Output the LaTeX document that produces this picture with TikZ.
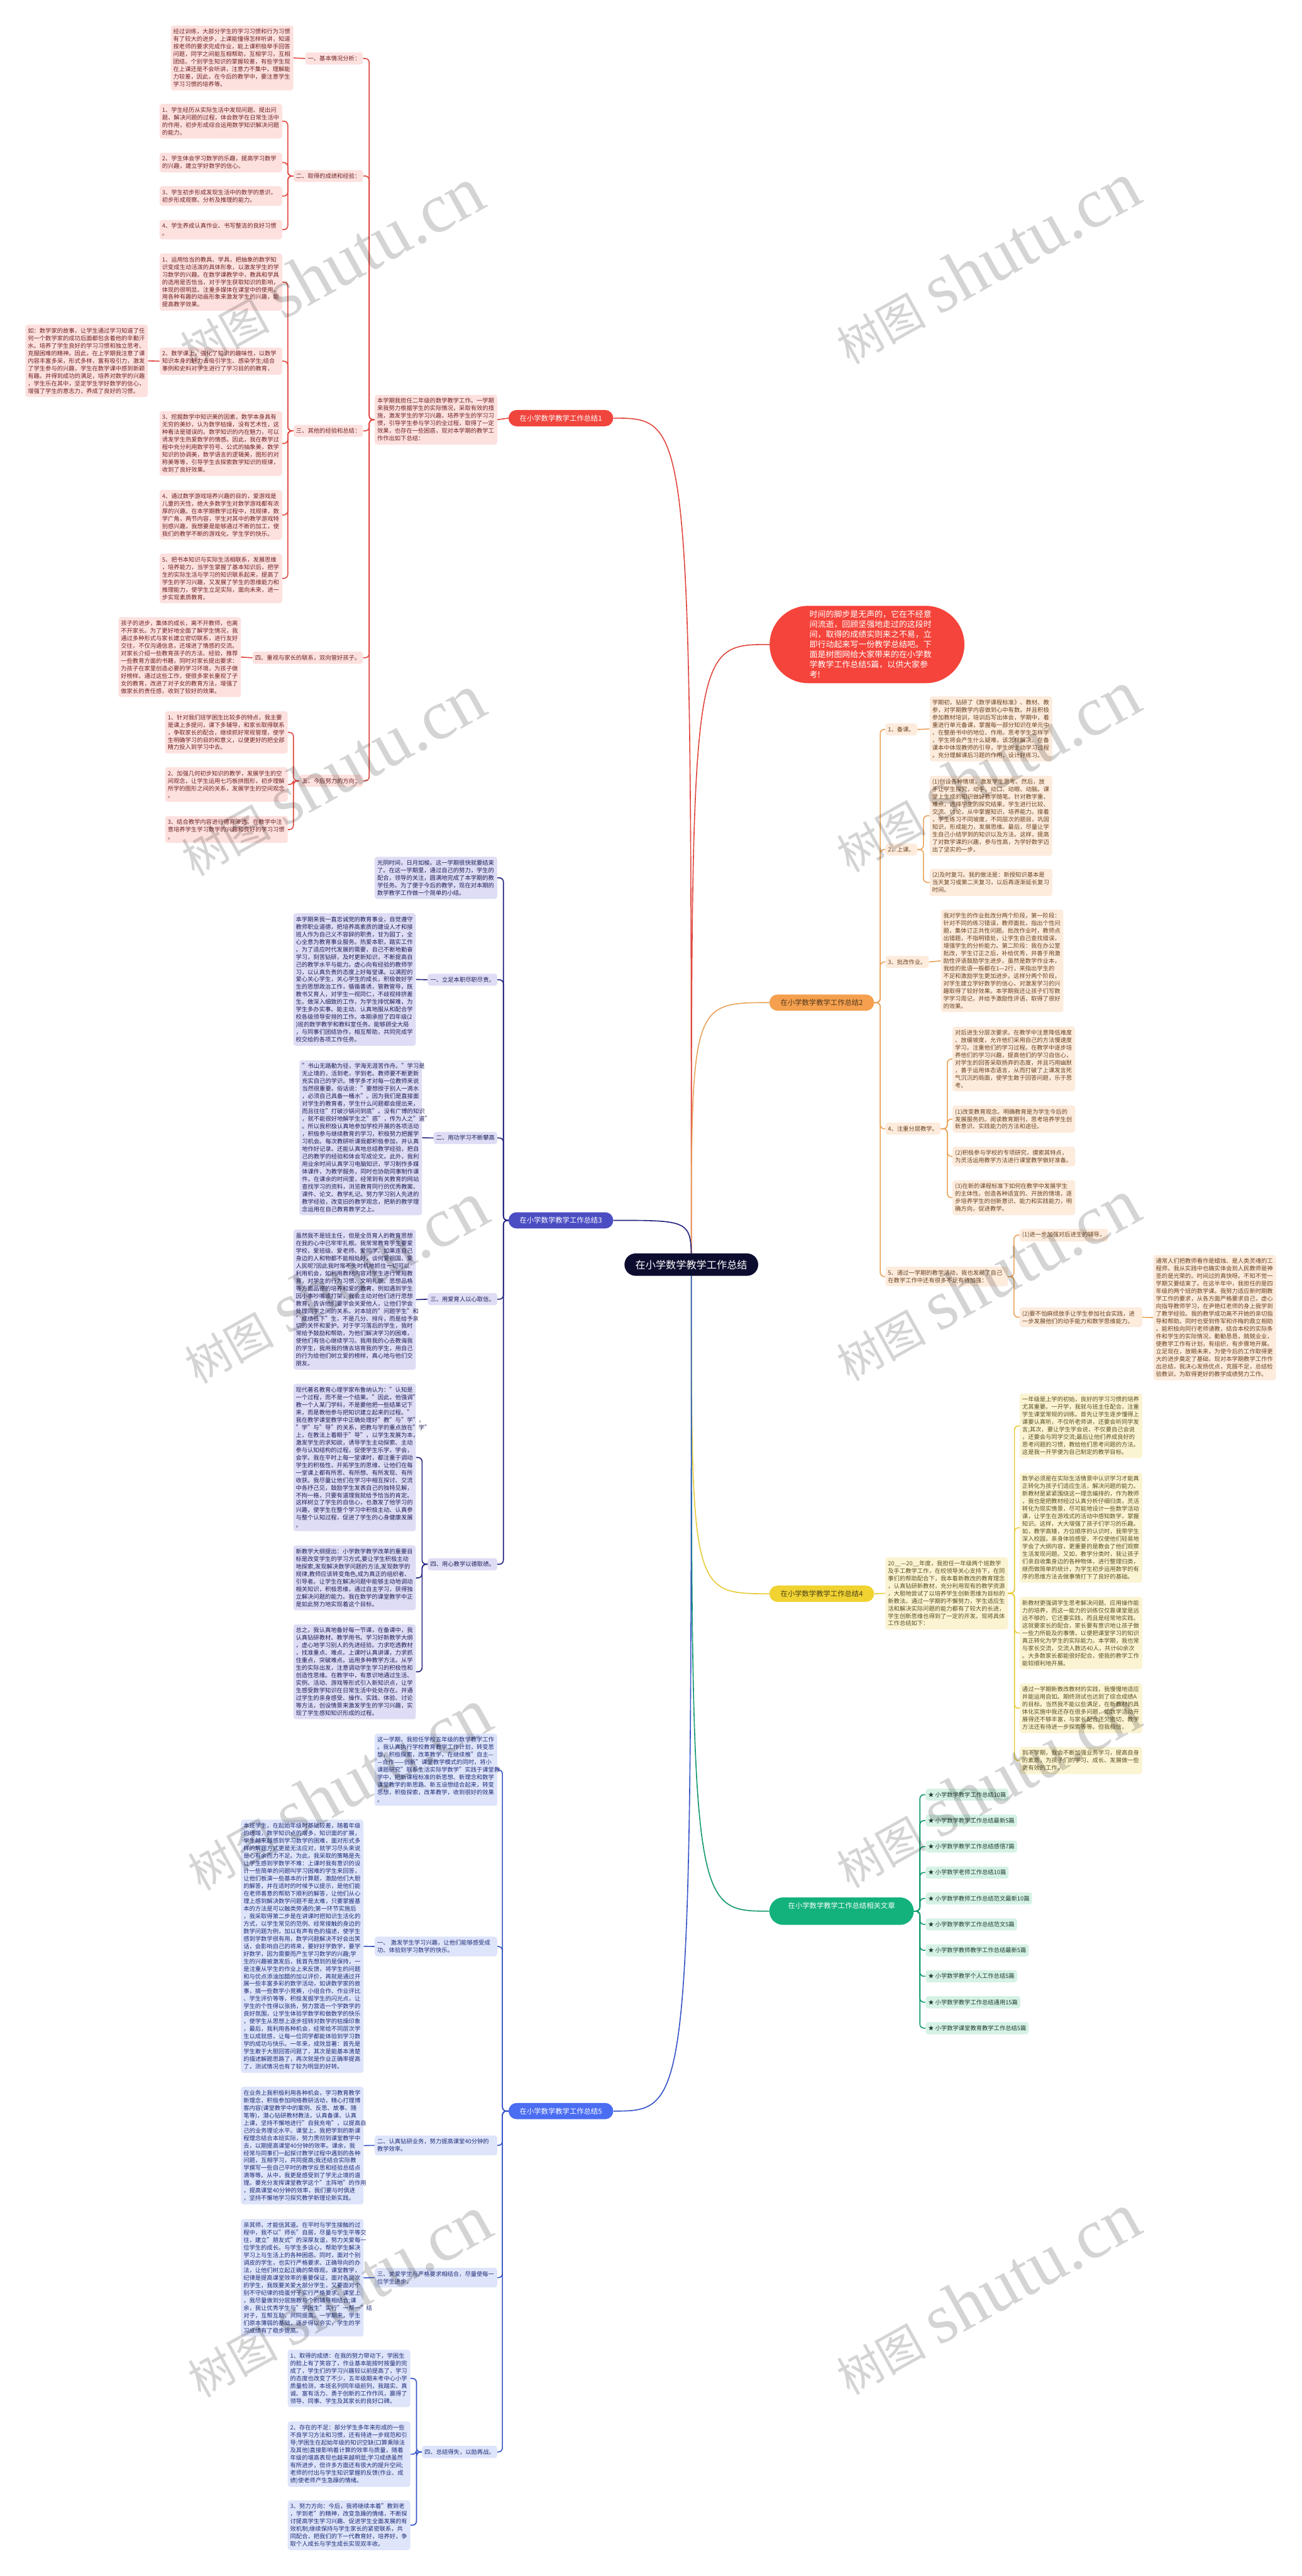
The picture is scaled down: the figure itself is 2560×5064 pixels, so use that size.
\documentclass[tikz,border=0pt]{standalone}
\usepackage{fontspec}
\setmainfont{Noto Sans CJK SC}
\newfontfamily\wmlatin{Liberation Serif}
\usetikzlibrary{backgrounds}
\definecolor{ctfill}{HTML}{0C0C2E}
\definecolor{rifill}{HTML}{F5443B}
\definecolor{r1}{HTML}{F0453D}
\definecolor{r1line}{HTML}{E04840}
\definecolor{r1fill}{HTML}{FDE1DF}
\definecolor{r1text}{HTML}{6E2424}
\definecolor{o2}{HTML}{F4A04E}
\definecolor{o2line}{HTML}{E9A35A}
\definecolor{o2fill}{HTML}{FDEBDC}
\definecolor{o2text}{HTML}{6A4422}
\definecolor{p3}{HTML}{4B4EC2}
\definecolor{p3line}{HTML}{232380}
\definecolor{p3fill}{HTML}{DEDDF5}
\definecolor{p3text}{HTML}{20205A}
\definecolor{y4}{HTML}{F0D230}
\definecolor{y4line}{HTML}{E8CB38}
\definecolor{y4fill}{HTML}{FBF4D3}
\definecolor{y4text}{HTML}{5C5022}
\definecolor{b5}{HTML}{4A6DF2}
\definecolor{b5line}{HTML}{3553C8}
\definecolor{b5fill}{HTML}{DEE4FA}
\definecolor{b5text}{HTML}{1E2E78}
\definecolor{g6}{HTML}{13B27C}
\definecolor{g6line}{HTML}{139870}
\definecolor{g6fill}{HTML}{D5F2E5}
\definecolor{g6text}{HTML}{1E3A30}
\tikzset{
  box/.style={rounded corners=5pt, inner xsep=5pt, inner ysep=6.5pt, align=left, font=\fontsize{11.5}{14.8}\selectfont},
  wide/.style={text width=231pt},
  sa/.style={box, fill=r1fill, text=r1text},
  sb/.style={box, fill=o2fill, text=o2text},
  sc/.style={box, fill=p3fill, text=p3text},
  sd/.style={box, fill=y4fill, text=y4text},
  se/.style={box, fill=b5fill, text=b5text},
  sf/.style={box, fill=g6fill, text=g6text},
  pill/.style={rounded corners=16pt, minimum width=206pt, minimum height=32pt, inner sep=0pt, font=\fontsize{14}{16}\selectfont},
  ca/.style={draw=r1line, line width=2pt, rounded corners=8pt},
  cb/.style={draw=o2line, line width=2pt, rounded corners=8pt},
  cc/.style={draw=p3line, line width=2pt, rounded corners=8pt},
  cd/.style={draw=y4line, line width=2pt, rounded corners=8pt},
  ce/.style={draw=b5line, line width=2pt, rounded corners=8pt},
  cf/.style={draw=g6line, line width=2pt, rounded corners=8pt},
  wmark/.style={rotate=29, text=black, text opacity=0.17, inner sep=0pt},
}
\newcommand{\wmtext}{{\fontsize{88}{88}\selectfont 树图}\hspace{26pt}{\wmlatin\fontsize{138}{138}\selectfont shutu.cn}}
\begin{document}
\begin{tikzpicture}[x=1pt,y=-1pt]
\useasboundingbox (0,0) rectangle (2560,5064);

% ---------- centre ----------
\node[rounded corners=22pt, minimum width=263pt, minimum height=44pt, inner sep=0pt, fill=ctfill, text=white, font=\fontsize{20}{22}\selectfont] (ct) at (1359.5,2486) {在小学数学教学工作总结};

\node[rounded corners=76pt, minimum width=383pt, minimum height=152pt, inner sep=0pt, fill=rifill, text=white, text width=226pt, align=left, font=\fontsize{16}{19.8}\selectfont] (ri) at (1705,1267) {时间的脚步是无声的，它在不经意\\
间流逝，回顾坚强地走过的这段时\\
间，取得的成绩实则来之不易，立\\
即行动起来写一份教学总结吧。下\\
面是树图网给大家带来的在小学数\\
学教学工作总结5篇，以供大家参\\
考!};

\node[pill, fill=r1, text=white] (b1) at (1103,822) {在小学数学教学工作总结1};
\node[pill, fill=p3, text=white] (b3) at (1103,2399) {在小学数学教学工作总结3};
\node[pill, fill=b5, text=white] (b5) at (1103,4150) {在小学数学教学工作总结5};
\node[pill, fill=o2, text=o2text!80!black] (b2) at (1616,1971) {在小学数学教学工作总结2};
\node[pill, fill=y4, text=y4text!80!black] (b4) at (1616,3133) {在小学数学教学工作总结4};
\node[pill, rounded corners=27pt, minimum width=284pt, minimum height=54pt, fill=g6, text=white, align=center, font=\fontsize{14}{22}\selectfont] (b6) at (1655,3757) {在小学数学教学工作总结相关文章\\\mbox{}};

% ---------- section 1 ----------
\node[sa, wide, anchor=north east] (i1) at (978,776) {本学期我担任二年级的数学教学工作。一学期\\
来我努力根据学生的实际情况，采取有效的措\\
施，激发学生的学习兴趣，培养学生的学习习\\
惯，引导学生参与学习的全过程，取得了一定\\
效果，也存在一些困惑，现对本学期的教学工\\
作作出如下总结：};

\node[sa, anchor=east] (a1) at (714,115) {一、基本情况分析：};
\node[sa, wide, anchor=north east] (a1x) at (577,50) {经过训练，大部分学生的学习习惯和行为习惯\\
有了较大的进步，上课能懂得怎样听讲，知道\\
按老师的要求完成作业，能上课积极举手回答\\
问题，同学之间能互相帮助，互相学习，互相\\
团结。个别学生知识的掌握较差，有些学生现\\
在上课还是不会听讲，注意力不集中，理解能\\
力较差，因此，在今后的教学中，要注意学生\\
学习习惯的培养等。};

\node[sa, anchor=east] (a2) at (714,346) {二、取得的成绩和经验：};
\node[sa, wide, anchor=north east] (a2a) at (555,204) {1、学生经历从实际生活中发现问题、提出问\\
题、解决问题的过程，体会数学在日常生活中\\
的作用，初步形成综合运用数学知识解决问题\\
的能力。};
\node[sa, wide, anchor=north east] (a2b) at (555,300) {2、学生体会学习数学的乐趣，提高学习数学\\
的兴趣，建立学好数学的信心。};
\node[sa, wide, anchor=north east] (a2c) at (555,366) {3、学生初步形成发现生活中的数学的意识，\\
初步形成观察、分析及推理的能力。};
\node[sa, wide, anchor=north east] (a2d) at (555,432) {4、学生养成认真作业、书写整洁的良好习惯\\
。};

\node[sa, anchor=east] (a3) at (714,847) {三、其他的经验和总结：};
\node[sa, wide, anchor=north east] (a3a) at (555,498) {1、运用恰当的教具、学具，把抽象的数学知\\
识变成生动活泼的具体形象，以激发学生的学\\
习数学的兴趣。在数学课教学中，教具和学具\\
的选用是否恰当，对于学生获取知识的影响，\\
体现的很明显。注重多媒体在课堂中的使用，\\
用各种有趣的动画形象来激发学生的兴趣，能\\
提高教学效果。};
\node[sa, wide, anchor=north east] (a3b) at (555,683) {2、数学课上，强化了知识的趣味性，以数学\\
知识本身的魅力去吸引学生、感染学生;结合\\
事例和史料对学生进行了学习目的的教育，};
\node[sa, wide, anchor=north east] (a3bx) at (291,638) {如：数学家的故事，让学生通过学习知道了任\\
何一个数学家的成功后面都包含着他的辛勤汗\\
水。培养了学生良好的学习习惯和独立思考、\\
克服困难的精神。因此，在上学期我注意了课\\
内容丰富多采，形式多样，富有吸引力，激发\\
了学生参与的兴趣，学生在数学课中感到新颖\\
有趣。并得到成功的满足，培养对数学的兴趣\\
，学生乐在其中，坚定学生学好数学的信心，\\
增强了学生的意志力，养成了良好的习惯。};
\node[sa, wide, anchor=north east] (a3c) at (555,808) {3、挖掘数学中知识美的因素，数学本身具有\\
无穷的美妙，认为数学枯燥，没有艺术性，这\\
种看法是错误的。数学知识的内在魅力，可以\\
诱发学生热爱数学的情感。因此，我在教学过\\
程中充分利用数学符号、公式的抽象美，数学\\
知识的协调美，数学语言的逻辑美，图形的对\\
称美等等，引导学生去探索数学知识的规律，\\
收到了良好效果。};
\node[sa, wide, anchor=north east] (a3d) at (555,963) {4、通过数学游戏培养兴趣的目的，爱游戏是\\
儿童的天性，绝大多数学生对数学游戏都有浓\\
厚的兴趣。在本学期教学过程中，找规律，数\\
学广角，两节内容，学生对其中的教学游戏特\\
别感兴趣，我想要是能够通过不断的加工，使\\
我们的教学不断的游戏化，学生学的快乐。};
\node[sa, wide, anchor=north east] (a3e) at (555,1088) {5、把书本知识与实际生活相联系，发展思维\\
，培养能力，当学生掌握了基本知识后，把学\\
生的实际生活与学习的知识联系起来，提高了\\
学生的学习兴趣，又发展了学生的思维能力和\\
推理能力，使学生立足实际，面向未来，进一\\
步实现素质教育。};

\node[sa, anchor=east] (a4) at (714,1293) {四、重视与家长的联系，双向管好孩子。};
\node[sa, wide, anchor=north east] (a4x) at (474,1213) {孩子的进步，集体的成长，离不开教师，也离\\
不开家长。为了更好地全面了解学生情况，我\\
通过多种形式与家长建立密切联系，进行友好\\
交往，不仅沟通信息，还增进了情感的交流。\\
对家长介绍一些教育孩子的方法、经验，推荐\\
一些教育方面的书籍，同时对家长提出要求：\\
为孩子在家里创造必要的学习环境，为孩子做\\
好榜样。通过这些工作，使很多家长重视了子\\
女的教育，改进了对子女的教育方法，增强了\\
做家长的责任感，收到了较好的效果。};

\node[sa, anchor=east] (a5) at (714,1535) {五、今后努力的方向：};
\node[sa, wide, anchor=north east] (a5a) at (566,1398) {1、针对我们班学困生比较多的特点，我主要\\
是课上多提问，课下多辅导，和家长取得联系\\
，争取家长的配合，继续抓好常规管理，使学\\
生明确学习的目的和意义，以便更好的把全部\\
精力投入到学习中去。};
\node[sa, wide, anchor=north east] (a5b) at (566,1508) {2、加强几何初步知识的教学，发展学生的空\\
间观念，让学生运用七巧板拼图形，初步理解\\
所学的图形之间的关系，发展学生的空间观念\\
。};
\node[sa, wide, anchor=north east] (a5c) at (566,1604) {3、结合教学内容进行德育渗透。在教学中注\\
意培养学生学习数学的兴趣和良好的学习习惯\\
。};

% ---------- section 3 ----------
\node[sc, wide, anchor=north east] (i3) at (978,1684) {光阴时间，日月如梭。这一学期很快就要结束\\
了。在这一学期里，通过自己的努力，学生的\\
配合，领导的关注，圆满地完成了本学期的教\\
学任务。为了便于今后的教学，现在对本期的\\
数学教学工作做一个简单的小结。};
\node[sc, anchor=east] (c1) at (978,1926) {一、立足本职尽职尽责。};
\node[sc, wide, anchor=north east] (c1x) at (818,1795) {本学期来我一直忠诚党的教育事业，自觉遵守\\
教师职业道德，把培养高素质的建设人才和接\\
班人作为自己义不容辞的职责，甘为园丁，全\\
心全意为教育事业服务。热爱本职，踏实工作\\
。为了适应时代发展的需要，自己不断地勤奋\\
学习，刻苦钻研，及时更新知识，不断提高自\\
己的教学水平与能力。虚心向有经验的教师学\\
习，以认真负责的态度上好每堂课。以满腔的\\
爱心关心学生，关心学生的成长，积极做好学\\
生的思想政治工作，循循善诱，管教管导，既\\
教书又育人，对学生一视同仁，不歧视排挤差\\
生。做深入细致的工作，为学生排忧解难，为\\
学生多办实事。能主动、认真地服从和配合学\\
校各级领导安排的工作。本期承担了四年级(2\\
)班的数学教学和教科室任务。能够顾全大局\\
，与同事们团结协作，相互帮助，共同完成学\\
校交给的各项工作任务。};
\node[sc, anchor=east] (c2) at (978,2237) {二、用功学习不断攀高};
\node[sc, wide, anchor=north east] (c2x) at (830,2084) {"书山无路勤为径，学海无涯苦作舟。"学习是\\
无止境的，活到老，学到老。教师要不断更新\\
充实自己的学识。博学多才对每一位教师来说\\
当然很重要。俗话说："要想授于别人一滴水\\
，必须自己具备一桶水"。因为我们是直接面\\
对学生的教育者，学生什么问题都会提出来，\\
而且往往"打破沙锅问到底"。没有广博的知识\\
，就不能很好地解学生之"惑"，传为人之"道"\\
。所以我积极认真地参加学校开展的各项活动\\
，积极参与继续教育的学习，积极努力把握学\\
习机会。每次教研听课我都积极参加，并认真\\
地作好记录。还能认真地总结教学经验，把自\\
己的教学的经验和体会写成论文。此外，我利\\
用业余时间认真学习电脑知识，学习制作多媒\\
体课件，为教学服务，同时也协助同事制作课\\
件。在课余的时间里，经常到有关教育的网站\\
查找学习的资料，浏览教育同行的优秀教案、\\
课件、论文、教学札记。努力学习别人先进的\\
教学经验，改变旧的教学观念，把新的教学理\\
念运用在自己教育教学之上。};
\node[sc, anchor=east] (c3) at (978,2554) {三、用爱育人以心取信。};
\node[sc, wide, anchor=north east] (c3x) at (818,2417) {虽然我不是班主任，但是全员育人的教育思想\\
在我的心中已牢牢扎根。我常常教育学生要爱\\
学校，爱班级、爱老师、爱同学。如果连自己\\
身边的人和物都不能相处好，谈何爱祖国、爱\\
人民呢?因此我时常不失时机地抓住一切可以\\
利用机会，如利用教材内容对学生进行常规教\\
育，对学生的行为习惯、文明礼貌、思想品格\\
等方面品德的培养和爱的教育。例如遇到学生\\
因小事吵嘴或打架，我会主动对他们进行思想\\
教育，告诉他们要学会关爱他人，让他们学会\\
处理同学之间的关系。对本班的"问题学生"和\\
"成绩低下"生，不是几分、排斥，而是给予亲\\
切的关怀和爱护。对于学习落后的学生，我时\\
常给予鼓励和帮助，为他们解决学习的困难，\\
使他们有信心继续学习。我用我的心去教诲我\\
的学生，我用我的情去培育我的学生，用自己\\
的行为给他们树立爱的榜样，真心地与他们交\\
朋友。};
\node[sc, anchor=east] (c4) at (978,3075) {四、用心教学以德取绩。};
\node[sc, wide, anchor=north east] (c4a) at (818,2720) {现代著名教育心理学家布鲁纳认为："认知是\\
一个过程，而不是一个结果。"因此，他强调"\\
教一个人某门学科，不是要他把一些结果记下\\
来，而是教他参与把知识建立起来的过程。"\\
我在教学课堂教学中正确处理好"教"与"学"，\\
"学"与"导"的关系，把教与学的重点放在"学"\\
上，在教法上着眼于"导"，以学生发展为本，\\
激发学生的求知欲，诱导学生主动探索、主动\\
参与认知结构的过程，促使学生乐学，学会，\\
会学。我在平时上每一堂课时，都注重于调动\\
学生的积极性，开拓学生的思维，让他们在每\\
一堂课上都有所思、有所想、有所发现、有所\\
收获。我尽量让他们在学习中相互探讨、交流\\
中各抒己见，鼓励学生发表自己的独特见解，\\
不拘一格，只要有道理我就给予恰当的肯定。\\
这样树立了学生的自信心，也激发了他学习的\\
兴趣，使学生在整个学习中积极主动、认真参\\
与整个认知过程，促进了学生的心身健康发展\\
。};
\node[sc, wide, anchor=north east] (c4b) at (818,3038) {新教学大纲提出：小学数学教学改革的重要目\\
标是改变学生的学习方式,要让学生积极主动\\
地探索,发现解决数学问题的方法,发现数学的\\
规律,教师应该转变角色,成为真正的组织者、\\
引导者。让学生在解决问题中能够主动地调动\\
相关知识，积极思维，通过自主学习，获得独\\
立解决问题的能力。我在数学的课堂教学中正\\
是如此努力地实现着这个目标。};
\node[sc, wide, anchor=north east] (c4c) at (818,3193) {总之，我认真地备好每一节课，在备课中，我\\
认真钻研教材、教学用书。学习好新教学大纲\\
，虚心地学习别人的先进经验。力求吃透教材\\
，找准重点、难点。上课时认真讲课，力求抓\\
住重点，突破难点。运用多种教学方法。从学\\
生的实际出发，注意调动学生学习的积极性和\\
创造性思维。在教学中，有意识地通过生活、\\
实例、活动、游戏等形式引入新知识点，让学\\
生感受数学知识在日常生活中处处存在。并通\\
过学生的亲身感受、操作、实践、体验、讨论\\
等方法，创设情景来激发学生的学习兴趣，实\\
现了学生感知知识形成的过程。};

% ---------- section 5 ----------
\node[se, wide, anchor=north east] (i5) at (978,3408) {这一学期，我担任学校五年级的数学教学工作\\
。我认真执行学校教育教学工作计划，转变思\\
想，积极探索，改革教学，在继续推"自主—\\
—合作——创新"课堂教学模式的同时，将小\\
课题研究"联系生活实际学数学"实践于课堂教\\
学中，把新课程标准的新思想、新理念和数学\\
课堂教学的新思路、新五设想结合起来，转变\\
思想，积极探索，改革教学，收到很好的效果\\
。};
\node[se, wide, anchor=north east] (e1) at (978,3807) {一、 激发学生学习兴趣，让他们能够感受成\\
功、体验到学习数学的快乐。};
\node[se, wide, anchor=north east] (e1x) at (715,3577) {本班学生，在起始年级时基础较差，随着年级\\
的递增，数学知识点的增多，知识面的扩展，\\
学生越来越感到学习数学的困难，面对形式多\\
样的解题方式更是无法应对，就学习尽头来说\\
是心有余而力不足。为此，我采取的策略是先\\
让学生感到学数学不难：上课时我有意识的设\\
计一些简单的问题叫学习困难的学生来回答，\\
让他们板演一些基本的计算题，激励他们大胆\\
的解答，并在适时的时候予以提示，是他们能\\
在老师善意的帮助下顺利的解答，让他们从心\\
理上感到解决数学问题不是太难，只要掌握基\\
本的方法是可以触类旁通的;第一环节实施后\\
，我采取得第二步是在讲课时把知识生活化的\\
方式，以学生常见的范例、经常接触的身边的\\
数学问题为例，加以有声有色的描述，使学生\\
感到学数学很有用，数学问题解决不好会出笑\\
话，会影响自己的将来，要好好学数学，要学\\
好数学，因为需要而产生学习数学的兴趣;学\\
生的兴趣被激发后，我首先想到的是保持，一\\
是注重从学生的作业上来反馈，将学生的问题\\
和与优点添油加醋的加以评价，再就是通过开\\
展一些丰富多彩的数学活动，如讲数学家的故\\
事，搞一些数学小竞赛，小组合作、作业评比\\
、学生评价等等，积极发掘学生的闪光点，让\\
学生的个性得以张扬，努力营造一个学数学的\\
良好氛围，让学生体验学数学和做数学的快乐\\
，使学生从思想上逐步扭转对数学的枯燥印象\\
，最后，我利用各种机会，经常给不同层次学\\
生以成就感，让每一位同学都能体验到学习数\\
学的成功与快乐。一年来，成效显著：首先是\\
学生敢于大胆回答问题了，其次是能基本清楚\\
的描述解题思路了，再次就是作业正确率提高\\
了，测试情况也有了较为明显的好转。};
\node[se, wide, anchor=north east] (e2) at (978,4198) {二、认真钻研业务，努力提高课堂40分钟的\\
教学效率。};
\node[se, wide, anchor=north east] (e2x) at (715,4102) {在业务上我积极利用各种机会，学习教育教学\\
新理念，积极参加网络教研活动，精心打理博\\
客内容(课堂教学中的案例、反思、故事、随\\
笔等)，潜心钻研教材教法，认真备课、认真\\
上课，坚持不懈地进行"自我充电"，以提高自\\
己的业务理论水平。课堂上，我把学到的新课\\
程理念结合本班实际，努力贯彻到课堂教学中\\
去，以期提高课堂40分钟的效率。课余，我\\
经常与同事们一起探讨教学过程中遇到的各种\\
问题，互相学习，共同提高;我还结合实际教\\
学撰写一些自己平时的教学反思和经验总结点\\
滴等等。从中，我更是感受到了学无止境的道\\
理。要充分发挥课堂教学这个"主阵地"的作用\\
，提高课堂40分钟的效率，我们要与时俱进\\
，坚持不懈地学习探究教学新理论新实践。};
\node[se, wide, anchor=north east] (e3) at (978,4458) {三、关爱学生与严格要求相结合，尽量使每一\\
位学生进步。};
\node[se, wide, anchor=north east] (e3x) at (715,4362) {亲其师，才能信其道。在平时与学生接触的过\\
程中，我不以"师长"自居，尽量与学生平等交\\
往，建立"朋友式"的深厚友谊，努力关爱每一\\
位学生的成长。与学生多谈心，帮助学生解决\\
学习上与生活上的各种困惑。同时，面对个别\\
调皮的学生，也实行严格要求、正确导向的办\\
法，让他们树立起正确的荣辱观。课堂教学，\\
纪律是提高课堂效率的重要保证。面对各层次\\
的学生，我既要关爱大部分学生，又要面对个\\
别不守纪律的捣蛋分子实行严格要求。课堂上\\
，我尽量做到分层施教与个别辅导相结合;课\\
余，我让优秀学生与"学困生"实行"一帮一"结\\
对子，互帮互助，共同提高。一学期来，学生\\
们原本薄弱的基础，逐步得以夯实，学生的学\\
习成绩有了稳步提高。};
\node[se, anchor=east] (e4) at (978,4820) {四、总结得失，以励再战。};
\node[se, wide, anchor=north east] (e4a) at (807,4619) {1、取得的成绩：在我的努力带动下，学困生\\
的脸上有了笑容了，作业基本能按时按量的完\\
成了，学生们的学习兴趣较以前提高了，学习\\
的态度也改变了不少，五年级期末考中心小学\\
质量检测，本班名列同年级前列，我踏实、真\\
诚、富有活力、勇于创新的工作作风，赢得了\\
领导、同事、学生及其家长的良好口碑。};
\node[se, wide, anchor=north east] (e4b) at (807,4760) {2、存在的不足：部分学生多年来形成的一些\\
不良学习方法和习惯，还有待进一步规范和引\\
导;学困生在起始年级的知识空缺(口算乘除法\\
及其他)直接影响着计算的效率与质量，随着\\
年级的增高表现也越来越明显;学习成绩虽然\\
有所进步，但许多方面还有很大的提升空间;\\
老师的付出与学生知识掌握的反馈(作业、成\\
绩)使老师产生急躁的情绪。};
\node[se, wide, anchor=north east] (e4c) at (807,4915) {3、努力方向：今后，我将继续本着"教到老\\
，学到老"的精神，改变急躁的情绪，不断探\\
讨提高学生学习兴趣、促进学生全面发展的有\\
效机制;继续保持与学生家长的紧密联系，共\\
同配合，把我们的下一代教育好，培养好，争\\
取个人成长与学生成长实现双丰收。};

% ---------- section 2 ----------
\node[sb, anchor=west] (p1) at (1741,1434) {1、备课。};
\node[sb, wide, anchor=north west] (p1x) at (1828,1369) {学期初，钻研了《数学课程标准》、教材、教\\
参，对学期教学内容做到心中有数。并且积极\\
参加教材培训，培训后写出体会，学期中，着\\
重进行单元备课，掌握每一部分知识在单元中\\
、在整册书中的地位、作用。思考学生怎样学\\
，学生将会产生什么疑难，该怎样解决。在备\\
课本中体现教师的引导，学生的主动学习过程\\
。充分理解课后习题的作用，设计好练习。};
\node[sb, anchor=west] (p2) at (1741,1670) {2、上课。};
\node[sb, wide, anchor=north west] (p2a) at (1828,1525) {(1)创设各种情境，激发学生思考。然后，放\\
手让学生探究，动手、动口、动眼、动脑。课\\
堂上生成的知识做好教学随笔。针对教学重、\\
难点，选择学生的探究结果，学生进行比较、\\
交流、讨论，从中掌握知识，培养能力。接着\\
，学生练习不同坡度，不同层次的题目，巩固\\
知识，形成能力，发展思维。最后，尽量让学\\
生自己小结学到的知识以及方法。这样，提高\\
了对数学课的兴趣，参与性高，为学好数学迈\\
出了坚实的一步。};
\node[sb, wide, anchor=north west] (p2b) at (1828,1708) {(2)及时复习。我的做法是：新授知识基本是\\
当天复习或第二天复习，以后再逐渐延长复习\\
时间。};
\node[sb, anchor=west] (p3) at (1741,1891) {3、批改作业。};
\node[sb, wide, anchor=north west] (p3x) at (1850,1788) {我对学生的作业批改分两个阶段，第一阶段：\\
针对不同的练习错误，教师面批，指出个性问\\
题，集体订正共性问题。批改作业时，教师点\\
出错题，不指明错处，让学生自己查找错误，\\
增强学生的分析能力。第二阶段：我在办公室\\
批改，学生订正之后，补给优秀，并善于用激\\
励性评语鼓励学生进步。虽然是数学作业本，\\
我给的批语一般都在1—2行，来指出学生的\\
不足和激励学生更加进步。这样分两个阶段，\\
对学生建立学好数学的信心，对激发学习的兴\\
趣取得了较好效果。本学期我还让孩子们写数\\
学学习周记，并给予激励性评语，取得了很好\\
的效果。};
\node[sb, anchor=west] (p4) at (1741,2219) {4、注重分层教学。};
\node[sb, wide, anchor=north west] (p4a) at (1873,2018) {对后进生分层次要求。在教学中注意降低难度\\
、放缓坡度，允许他们采用自己的方法慢速度\\
学习。注重他们的学习过程。在教学中逐步培\\
养他们的学习兴趣，提高他们的学习自信心，\\
对学生的回答采取扬弃的态度，并且巧用幽默\\
，善于运用体态语言，从而打破了上课发言死\\
气沉沉的局面，使学生敢于回答问题，乐于思\\
考。};
\node[sb, wide, anchor=north west] (p4b) at (1873,2173) {(1)改变教育观念。明确教育是为学生今后的\\
发展服务的。阅读教育期刊，思考培养学生创\\
新意识、实践能力的方法和途径。};
\node[sb, wide, anchor=north west] (p4c) at (1873,2254) {(2)积极参与学校的专项研究，摸索其特点，\\
为灵活运用教学方法进行课堂教学做好准备。};
\node[sb, wide, anchor=north west] (p4d) at (1873,2320) {(3)在新的课程标准下如何在教学中发展学生\\
的主体性。创造各种适宜的、开放的情境，逐\\
步培养学生的创新意识、能力和实践能力，明\\
确方向，促进教学。};
\node[sb, wide, anchor=north west] (p5) at (1741,2490) {5、通过一学期的教学活动，我也发现了自己\\
在教学工作中还有很多不足有待加强：};
\node[sb, anchor=west] (p5a) at (2005,2428) {(1)进一步加强对后进生的辅导。};
\node[sb, wide, anchor=north west] (p5b) at (2005,2570) {(2)要不怕麻烦放手让学生参加社会实践，进\\
一步发展他们的动手能力和数学思维能力。};
\node[sb, wide, anchor=north west] (p5bx) at (2268,2467) {通常人们把教师看作是蜡烛、是人类灵魂的工\\
程师。我从实践中也确实体会到人民教师是神\\
圣的是光荣的。时间过的真快呀。不知不觉一\\
学期又要结束了。在这半年中，我担任的是四\\
年级的两个班的数学课。我努力适应新时期教\\
学工作的要求，从各方面严格要求自己，虚心\\
向指导教师学习，在尹艳红老师的身上我学到\\
了教学经验。我的教学成功离不开她的亲切指\\
导和帮助。同时也受到佟军和许梅的鼎立相助\\
。能积极向同行老师请教，结合本校的实际条\\
件和学生的实际情况，勤勤恳恳，兢兢业业，\\
使教学工作有计划，有组织，有步骤地开展。\\
立足现在，放眼未来，为使今后的工作取得更\\
大的进步奠定了基础，现对本学期教学工作作\\
出总结，我决心发扬优点，克服不足，总结检\\
验教训，为取得更好的教学成绩努力工作。};

% ---------- section 4 ----------
\node[sd, wide, anchor=north west] (i4) at (1741,3061) {20\_\_—20\_\_年度，我担任一年级两个班数学\\
及手工教学工作，在校领导关心支持下，在同\\
事们的帮助配合下，我本着新教改的教育理念\\
，认真钻研新教材，充分利用现有的教学资源\\
，大胆地尝试了以培养学生创新思维为目标的\\
新教法。通过一学期的不懈努力，学生适应生\\
活和解决实际问题的能力都有了较大的长进，\\
学生创新思维也得到了一定的开发。现将具体\\
工作总结如下：};
\node[sd, wide, anchor=north west] (d1) at (2005,2739) {一年级是上学的初始，良好的学习习惯的培养\\
尤其重要。一开学，我就与班主任配合，注重\\
学生课堂常规的训练。首先让学生逐步懂得上\\
课要认真听，不仅听老师讲，还要会听同学发\\
言;其次，要让学生学会说，不仅要自己会说\\
，还要会与同学交流;最后让他们养成良好的\\
思考问题的习惯，教给他们思考问题的方法。\\
这是我一开学便为自己制定的教学目标。};
\node[sd, wide, anchor=north west] (d2) at (2005,2895) {数学必须是在实际生活情景中认识学习才能真\\
正转化为孩子们适应生活，解决问题的能力。\\
新教材是紧紧围绕这一理念编排的，作为教师\\
，我也是把教材经过认真分析仔细归类，灵活\\
转化为现实情景，尽可能地设计一些数学活动\\
课，让学生在游戏式的活动中感知数学，掌握\\
知识。这样，大大增强了孩子们学习的乐趣。\\
如，教学高矮，方位顺序的认识时，我带学生\\
深入校园，亲身体验感受，不仅使他们轻易地\\
学会了大纲内容，更重要的是教会了他们观察\\
生活发现问题。又如，教学分类时，我让孩子\\
们亲自收集身边的各种物体，进行整理归类，\\
继而做简单的统计，为学生初步运用数学的有\\
序的思维方法去做事情打下了良好的基础。};
\node[sd, wide, anchor=north west] (d3) at (2005,3139) {新教材更强调学生思考解决问题、应用操作能\\
力的培养，而这一能力的训练仅仅靠课堂是远\\
远不够的，它还要实践，而且是经常地实践。\\
这就要家长的配合，家长要有意识地让孩子做\\
一些力所能及的事情，以便把课堂学习的知识\\
真正转化为学生的实际能力。本学期，我也常\\
与家长交流，交流人数达40人，共计60余次\\
。大多数家长都能很好配合，使我的教学工作\\
能较顺利地开展。};
\node[sd, wide, anchor=north west] (d4) at (2005,3309) {通过一学期新教改教材的实践，我慢慢地适应\\
并能运用自如。期终测试也达到了综合成绩A\\
的目标。当然我不能以些满足，在新教材的具\\
体化实施中我还存在很多问题，如数学活动开\\
展得还不够丰富，与家长配合还欠密切，教学\\
方法还有待进一步探索等等。但我相信，};
\node[sd, wide, anchor=north west] (d5) at (2005,3434) {到下学期，我会不断加强业务学习，提高自身\\
的素质，为孩子们的学习、成长、发展做一些\\
更有效的工作。};

% ---------- related ----------
\node[sf, anchor=west] (f1) at (1820,3528) {★ 小学数学教学工作总结10篇};
\node[sf, anchor=west] (f2) at (1820,3579) {★ 小学数学教学工作总结最新5篇};
\node[sf, anchor=west] (f3) at (1820,3630) {★ 小学数学教学工作总结感悟7篇};
\node[sf, anchor=west] (f4) at (1820,3681) {★ 小学数学老师工作总结10篇};
\node[sf, anchor=west] (f5) at (1820,3732) {★ 小学数学教师工作总结范文最新10篇};
\node[sf, anchor=west] (f6) at (1820,3783) {★ 小学数学教学工作总结范文5篇};
\node[sf, anchor=west] (f7) at (1820,3834) {★ 小学数学教师教学工作总结最新5篇};
\node[sf, anchor=west] (f8) at (1820,3885) {★ 小学数学教学个人工作总结5篇};
\node[sf, anchor=west] (f9) at (1820,3936) {★ 小学数学教学工作总结通用15篇};
\node[sf, anchor=west] (f10) at (1820,3987) {★ 小学数学课堂教育教学工作总结5篇};

% ---------- helper coordinates for the elbow lines ----------
\coordinate (v1) at (726,0);
\coordinate (v1b) at (566,0);
\coordinate (v1e) at (577,0);
\coordinate (v3) at (990,0);
\coordinate (v3d) at (830,0);
\coordinate (v5) at (988,0);
\coordinate (v5d) at (819,0);
\coordinate (v2) at (1731,0);
\coordinate (v2b) at (1816,0);
\coordinate (v2d) at (1863,0);
\coordinate (v2e) at (1994,0);
\coordinate (v4) at (1995,0);
\coordinate (v6) at (1809,0);

\begin{scope}[on background layer]
\fill[white] (0,0) rectangle (2560,5064);
% centre curves
\draw[r1line, line width=2pt] (ct.center) .. controls (ct.center |- b1.east) .. (b1.east);
\draw[r1line, line width=2pt] (ct.center) .. controls (ct.center |- ri.west) .. (ri.west);
\draw[o2line, line width=2pt] (ct.center) .. controls (ct.center |- b2.west) .. (b2.west);
\draw[p3line, line width=2pt] (ct.center) .. controls (ct.center |- b3.east) .. (b3.east);
\draw[y4line, line width=2pt] (ct.center) .. controls (ct.center |- b4.west) .. (b4.west);
\draw[g6line, line width=2pt] (ct.center) .. controls (ct.center |- b6.west) .. (b6.west);
\draw[b5line, line width=2pt] (ct.center) .. controls (ct.center |- b5.east) .. (b5.east);
% section 1
\draw[ca] (b1.west) -- (i1.east);
\foreach \n in {a1,a2,a3,a4,a5} \draw[ca] (i1.west) -- (v1 |- i1.west) |- (\n.east);
\draw[ca] (a1.west) -- (a1x.east);
\foreach \n in {a2a,a2b,a2c,a2d} \draw[ca] (a2.west) -- (v1b |- a2.west) |- (\n.east);
\foreach \n in {a3a,a3b,a3c,a3d,a3e} \draw[ca] (a3.west) -- (v1b |- a3.west) |- (\n.east);
\draw[ca] (a3b.west) -- (a3bx.east);
\draw[ca] (a4.west) -- (a4x.east);
\foreach \n in {a5a,a5b,a5c} \draw[ca] (a5.west) -- (v1e |- a5.west) |- (\n.east);
% section 3
\foreach \n in {i3,c1,c2,c3,c4} \draw[cc] (b3.west) -- (v3 |- b3.west) |- (\n.east);
\draw[cc] (c1.west) -- (c1x.east);
\draw[cc] (c2.west) -- (c2x.east);
\draw[cc] (c3.west) -- (c3x.east);
\foreach \n in {c4a,c4b,c4c} \draw[cc] (c4.west) -- (v3d |- c4.west) |- (\n.east);
% section 5
\foreach \n in {i5,e1,e2,e3,e4} \draw[ce] (b5.west) -- (v5 |- b5.west) |- (\n.east);
\draw[ce] (e1.west) -- (e1x.east);
\draw[ce] (e2.west) -- (e2x.east);
\draw[ce] (e3.west) -- (e3x.east);
\foreach \n in {e4a,e4b,e4c} \draw[ce] (e4.west) -- (v5d |- e4.west) |- (\n.east);
% section 2
\foreach \n in {p1,p2,p3,p4,p5} \draw[cb] (b2.east) -- (v2 |- b2.east) |- (\n.west);
\draw[cb] (p1.east) -- (p1x.west);
\foreach \n in {p2a,p2b} \draw[cb] (p2.east) -- (v2b |- p2.east) |- (\n.west);
\draw[cb] (p3.east) -- (p3x.west);
\foreach \n in {p4a,p4b,p4c,p4d} \draw[cb] (p4.east) -- (v2d |- p4.east) |- (\n.west);
\foreach \n in {p5a,p5b} \draw[cb] (p5.east) -- (v2e |- p5.east) |- (\n.west);
\draw[cb] (p5b.east) -- (p5bx.west);
% section 4
\draw[cd] (b4.east) -- (i4.west);
\foreach \n in {d1,d2,d3,d4,d5} \draw[cd] (i4.east) -- (v4 |- i4.east) |- (\n.west);
% related
\foreach \n in {f1,f2,f3,f4,f5,f6,f7,f8,f9,f10} \draw[cf] (b6.east) -- (v6 |- b6.east) |- (\n.west);
\end{scope}

% ---------- watermarks ----------
\node[wmark] (w1) at (650,528) {\wmtext};
\node[wmark] (w2) at (1940,518) {\wmtext};
\node[wmark] (w3) at (652,1524) {\wmtext};
\node[wmark] (w4) at (1940,1516) {\wmtext};
\node[wmark] (w5) at (658,2522) {\wmtext};
\node[wmark] (w6) at (1940,2517) {\wmtext};
\node[wmark] (w7) at (665,3518) {\wmtext};
\node[wmark] (w8) at (1940,3513) {\wmtext};
\node[wmark] (w9) at (665,4514) {\wmtext};
\node[wmark] (w10) at (1940,4510) {\wmtext};
\end{tikzpicture}
\end{document}
